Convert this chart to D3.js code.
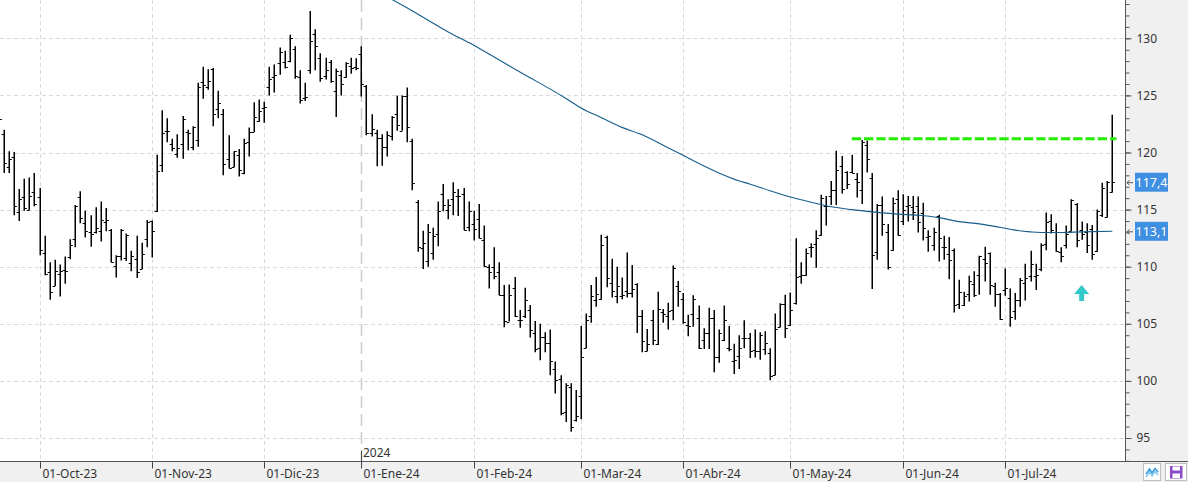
<!DOCTYPE html>
<html><head><meta charset="utf-8">
<script src="https://cdn.jsdelivr.net/npm/d3@7/dist/d3.min.js"></script>
<style>
html,body{margin:0;padding:0;background:#fff;}
svg{display:block;font-family:"Noto Sans",sans-serif;}
</style></head>
<body>
<svg id="chart" width="1188" height="482"></svg>
<script>
// ---- DATA (bar index 0 = 02-Oct-23, first bar index = -8) ----
const firstIndex = -8;
const opens = [122.6,121.6,118.7,119.6,114.8,116.1,115.0,116.5,
116.1,111.2,109.55,108.3,109.4,109.7,110.85,112.4,116.1,113.8,113.0,113.0,113.1,113.9,113.2,110.1,110.9,110.8,110.35,110.65,109.8,112.4,
114.0,114.85,118.9,121.9,120.75,119.9,120.75,121.8,120.5,121.1,126.2,125.7,127.3,123.8,123.4,119.4,118.7,119.8,118.2,120.9,121.8,122.8,
123.9,125.7,126.65,127.8,127.9,128.0,129.1,126.6,124.8,127.2,130.4,128.3,126.7,127.9,125.4,126.8,126.6,127.6,127.5,
128.6,125.8,121.7,121.7,121.3,120.5,121.45,123.4,121.9,124.95,121.0,115.65,111.6,110.5,111.2,112.9,116.4,115.0,115.9,116.15,116.35,113.45,
113.75,114.2,112.35,110.0,109.95,109.5,107.5,105.2,108.15,105.3,105.7,106.2,104.2,102.9,103.85,103.3,101.05,100.2,97.3,99.5,96.6,
98.65,102.9,105.7,107.1,107.2,112.6,108.55,107.4,107.4,107.9,107.7,108.5,105.65,102.65,105.3,103.2,106.0,105.7,106.2,108.3,
107.2,104.9,105.9,105.5,103.6,104.2,105.5,102.1,103.55,102.85,101.7,102.2,103.8,103.8,102.7,102.65,102.8,102.4,100.55,104.75,106.7,
104.9,106.8,109.2,109.3,111.7,112.0,112.75,115.3,116.15,116.7,118.8,118.3,118.25,117.65,116.7,120.65,117.8,111.25,115.4,113.0,111.45,115.9,
114.0,115.3,115.2,115.3,114.7,112.6,111.9,114.45,111.7,111.1,111.5,106.7,106.65,107.6,108.5,109.3,110.65,111.2,108.3,107.6,
108.0,107.3,106.1,107.1,108.55,109.15,109.15,109.8,112.0,114.0,113.0,111.25,111.9,113.1,115.5,113.2,113.0,113.3,111.4,114.5,114.35,116.5];
const highs = [123.3,122.0,120.1,120.05,116.8,117.7,117.8,118.2,
116.9,112.7,110.4,110.6,110.2,110.9,112.4,115.4,116.6,114.9,114.5,115.2,115.7,115.15,113.3,111.0,113.3,112.9,111.4,112.7,112.1,114.1,
114.05,119.8,123.7,123.0,121.2,121.6,123.2,122.0,122.3,126.1,127.5,127.3,127.4,125.4,123.8,121.5,120.1,120.3,121.2,122.2,124.4,124.65,
124.45,127.5,127.7,129.2,128.9,130.3,129.3,127.2,126.1,132.4,130.8,128.7,128.3,128.1,127.35,127.2,127.9,128.3,128.25,
129.3,125.9,123.35,122.0,121.6,121.85,123.2,125.0,125.0,125.7,121.2,115.85,113.15,113.75,113.4,115.7,117.25,115.9,117.4,116.8,116.9,115.7,
114.9,115.5,113.6,110.2,111.7,110.4,108.4,108.45,109.1,106.2,108.15,106.65,105.25,105.0,104.25,104.5,101.7,100.5,99.8,99.8,99.2,
104.8,105.9,108.4,109.1,112.8,112.7,110.7,110.0,109.05,111.25,110.15,108.55,106.2,104.55,106.2,107.8,106.3,106.85,110.1,108.75,
107.7,105.8,107.5,106.6,104.6,106.4,106.2,104.5,106.6,104.8,103.25,104.0,105.3,104.2,104.5,104.25,104.35,102.85,105.9,106.8,107.55,
107.75,112.5,110.4,111.6,112.05,113.2,116.3,116.2,117.5,120.15,119.7,118.35,119.8,118.2,121.1,121.05,118.2,115.5,116.15,113.75,116.05,116.7,
116.35,116.2,116.2,116.15,115.6,113.2,113.4,114.55,112.7,112.6,111.6,108.85,107.8,109.2,109.6,110.95,111.75,111.25,108.6,107.7,
109.85,108.1,107.7,109.0,110.25,111.4,110.25,112.05,114.75,114.6,113.8,111.7,113.6,115.9,115.55,113.95,113.8,113.65,115.0,117.35,117.5,123.3];
const lows = [122.4,118.2,118.2,114.5,114.0,114.9,114.95,115.3,
111.0,109.25,107.1,108.3,107.4,108.5,110.65,111.7,113.8,112.55,111.75,112.9,112.2,113.1,110.4,109.05,110.55,110.5,109.6,109.0,109.8,111.7,
110.8,114.8,118.3,120.9,120.1,119.55,119.45,120.2,120.2,120.5,124.7,125.5,122.3,123.0,118.0,118.6,118.7,117.9,118.1,119.65,121.8,122.7,
122.6,125.0,125.25,126.8,127.35,127.9,126.45,124.3,124.5,126.9,127.2,126.2,126.4,126.1,123.1,125.0,126.55,126.9,127.2,
124.9,121.5,121.4,118.8,118.85,119.65,121.05,121.9,121.9,120.9,116.7,111.3,109.8,110.0,110.6,111.8,114.85,114.15,114.5,114.45,113.2,113.1,
112.3,112.5,110.0,108.1,108.9,107.5,104.7,105.2,105.6,104.65,105.5,103.8,102.5,101.8,102.5,100.5,98.9,97.0,96.4,95.55,96.45,
96.65,102.85,105.1,106.5,107.1,108.2,107.3,106.8,107.15,107.3,107.3,104.2,102.5,102.6,103.15,103.15,105.1,104.5,105.3,106.5,
105.0,103.9,104.75,102.8,102.8,102.8,100.75,101.6,103.5,102.6,100.6,101.05,102.85,102.0,102.05,101.85,102.3,100.05,100.5,104.7,103.75,
104.8,106.7,108.5,109.2,110.8,109.9,112.7,113.6,115.4,115.4,116.4,116.8,118.2,116.05,115.5,118.25,108.05,110.6,112.7,109.75,111.4,112.7,
113.65,113.95,114.1,113.0,112.3,111.3,111.4,110.45,110.6,108.9,106.0,106.3,106.55,106.95,107.35,107.55,108.7,107.55,106.5,105.35,
107.45,104.75,105.35,106.5,107.05,108.7,107.95,109.6,111.45,112.9,111.3,110.4,111.6,113.1,111.7,112.35,111.2,110.6,111.3,114.35,114.3,116.5];
const closes = [122.9,119.1,119.4,115.3,115.9,115.1,116.2,115.5,
111.5,109.4,107.8,109.6,109.6,109.6,111.9,115.3,114.25,113.1,112.9,113.4,114.1,114.1,110.4,110.95,113.2,112.8,110.9,109.55,111.1,113.9,
113.1,118.35,121.7,121.85,120.4,120.4,122.9,121.7,122.2,125.7,125.9,126.3,123.4,124.3,119.0,118.65,120.1,118.45,120.8,121.8,123.15,123.6,
124.0,126.4,126.75,128.8,127.5,130.0,126.7,124.6,124.9,129.8,129.3,126.5,127.2,126.3,127.1,126.0,127.8,127.4,127.4,
126.0,121.7,122.1,121.25,120.5,121.5,123.1,122.4,124.95,122.2,117.3,111.7,112.05,113.0,112.7,114.85,115.4,115.4,116.5,116.2,113.25,114.9,
113.3,112.5,110.1,109.55,109.2,107.5,105.25,107.55,105.7,105.35,107.05,104.45,102.8,103.85,103.3,101.7,100.1,97.2,99.6,96.0,96.9,
102.1,105.35,107.4,107.6,111.9,109.0,107.9,108.3,107.5,107.7,108.05,105.7,103.5,103.2,103.6,106.3,105.9,106.1,109.85,107.85,
105.2,104.8,107.15,102.85,104.2,105.5,102.1,104.2,105.35,102.8,101.8,102.85,103.8,102.65,102.6,104.05,103.3,100.45,104.55,106.75,104.6,
106.2,109.1,109.25,111.2,111.7,112.5,116.0,115.3,116.7,118.5,116.8,117.25,118.2,117.4,120.95,119.45,111.0,115.4,113.75,110.0,115.6,112.8,
115.0,115.4,114.8,113.9,113.4,112.65,113.0,112.5,111.75,110.6,106.65,107.8,107.45,108.75,107.55,110.9,110.3,108.4,107.6,105.4,
108.15,105.6,107.1,108.8,109.0,110.2,109.3,111.9,113.95,113.2,111.4,110.95,112.85,115.8,112.35,112.85,111.9,111.1,114.9,116.85,117.45,117.4];

// long moving average, read at sample bar indices
const maIndex = [66,69,72,76,80,85,90,95,100,103,106,110,114,118,122,126,129,133,137,139,143,147,151,155,159,163,168,172,176,180,184,188,191,194,196,200,204,210];
const maValue = [134.1,133.4,132.65,131.6,130.55,129.4,128.1,126.8,125.55,124.75,123.9,123.05,122.2,121.55,120.65,119.75,119.05,118.2,117.5,117.25,116.65,116.1,115.65,115.25,115.0,114.8,114.6,114.5,114.3,113.95,113.75,113.45,113.2,113.05,113.0,113.0,113.05,113.1];

const monthIndex = [0,22,44,63,85,106,126,147,169,189];
const monthLabels = ["01-Oct-23","01-Nov-23","01-Dic-23","01-Ene-24","01-Feb-24","01-Mar-24","01-Abr-24","01-May-24","01-Jun-24","01-Jul-24"];
const yearIndex = 63, yearLabel = "2024";

const yTickValues = [95,100,105,110,115,120,125,130];
const resistance = {value:121.2, from:159, to:210.8};
const arrowSignal = {index:204, value:108.4};
const priceTags = [{value:117.4, label:"117,4"},{value:113.1, label:"113,1"}];

// ---- LAYOUT ----
const W = 1188, H = 482, plotR = 1125, plotB = 461;
const svg = d3.select("#chart");
const x = d3.scaleLinear().domain([0,210]).range([39.5,1112.3]);
const y = d3.scaleLinear().domain([95,130]).range([438,38.3]);

svg.append("defs").append("clipPath").attr("id","clip")
  .append("rect").attr("x",0).attr("y",0).attr("width",plotR).attr("height",plotB);

// panels
svg.append("rect").attr("x",plotR).attr("y",0).attr("width",W-plotR).attr("height",H).attr("fill","#f0f0f0");
svg.append("rect").attr("x",0).attr("y",plotB).attr("width",W).attr("height",H-plotB).attr("fill","#f0f0f0");

const plot = svg.append("g").attr("clip-path","url(#clip)");

// grid
plot.selectAll(".hg").data(yTickValues).join("line")
  .attr("x1",0).attr("x2",plotR).attr("y1",d=>Math.round(y(d))+0.5).attr("y2",d=>Math.round(y(d))+0.5)
  .attr("stroke","#d9d9d9").attr("stroke-dasharray","4,3");
plot.selectAll(".vg").data(monthIndex.filter(d=>d!==yearIndex)).join("line")
  .attr("x1",d=>Math.round(x(d))+0.5).attr("x2",d=>Math.round(x(d))+0.5).attr("y1",0).attr("y2",plotB)
  .attr("stroke","#d9d9d9").attr("stroke-dasharray","4,3");
plot.append("line").attr("x1",Math.round(x(yearIndex))+0.5).attr("x2",Math.round(x(yearIndex))+0.5)
  .attr("y1",0).attr("y2",plotB).attr("stroke","#cccccc").attr("stroke-width",1.5).attr("stroke-dasharray","12,6");

// bars
const bars = opens.map((o,i)=>({i:i+firstIndex,o,h:highs[i],l:lows[i],c:closes[i]}));
const bg = plot.append("g").attr("stroke","#000");
bars.forEach(b=>{
  const cx = Math.round(x(b.i))+0.25;
  bg.append("line").attr("x1",cx).attr("x2",cx).attr("y1",y(b.h)).attr("y2",y(b.l)).attr("stroke-width",1.5);
  bg.append("line").attr("x1",cx-2.6).attr("x2",cx).attr("y1",Math.round(y(b.o))+0.5).attr("y2",Math.round(y(b.o))+0.5).attr("stroke-width",1);
  bg.append("line").attr("x1",cx).attr("x2",cx+2.6).attr("y1",Math.round(y(b.c))+0.5).attr("y2",Math.round(y(b.c))+0.5).attr("stroke-width",1);
});

// moving average
plot.append("path").datum(maIndex.map((d,i)=>[d,maValue[i]]))
  .attr("fill","none").attr("stroke","#155d8c").attr("stroke-width",1.1)
  .attr("d",d3.line().curve(d3.curveMonotoneX).x(d=>x(d[0])).y(d=>y(d[1])));

// resistance
plot.append("line").attr("x1",x(resistance.from)).attr("x2",x(resistance.to))
  .attr("y1",y(resistance.value)).attr("y2",y(resistance.value))
  .attr("stroke","#22ee00").attr("stroke-width",3).attr("stroke-dasharray","9.3,3");

// arrow
{
  const ax = x(arrowSignal.index), ay = y(arrowSignal.value);
  plot.append("path").attr("fill","#33c9c9")
    .attr("d",`M${ax},${ay} L${ax+7.5},${ay+9} L${ax+2.5},${ay+9} L${ax+2.5},${ay+16} L${ax-2.5},${ay+16} L${ax-2.5},${ay+9} L${ax-7.5},${ay+9} Z`);
}

// right axis
const rA = svg.append("g").attr("transform",`translate(${plotR+0.5},0)`);
rA.call(d3.axisRight(y).tickValues(d3.range(93,134)).tickSize(4).tickFormat(""));
const rB = svg.append("g").attr("transform",`translate(${plotR+0.5},0)`);
rB.call(d3.axisRight(y).tickValues(yTickValues).tickSize(6).tickPadding(5).tickFormat(d3.format("d")));
[rA,rB].forEach(g=>{
  g.select(".domain").remove();
  g.selectAll("line").attr("stroke","#555");
  g.selectAll("text").attr("fill","#333").attr("font-size","12px").attr("font-family","Noto Sans");
});
svg.append("line").attr("x1",plotR+0.5).attr("x2",plotR+0.5).attr("y1",0).attr("y2",plotB).attr("stroke","#555");

// price tags
priceTags.forEach(t=>{
  const ty = y(t.value);
  svg.append("rect").attr("x",1135).attr("y",ty-9.5).attr("width",33).attr("height",19).attr("fill","#3f8fe3");
  svg.append("text").attr("x",1151.5).attr("y",ty).attr("dy","0.36em").attr("text-anchor","middle")
    .attr("fill","#fff").attr("font-size","12.5px").text(t.label);
  svg.append("path").attr("fill","none").attr("stroke","#555").attr("stroke-width",1)
    .attr("d",`M${plotR+8},${ty+0.5} L${plotR+2},${ty+0.5} M${plotR+4.5},${ty-2} L${plotR+2},${ty+0.5} L${plotR+4.5},${ty+3}`);
});

// bottom axis
svg.append("line").attr("x1",0).attr("x2",W).attr("y1",plotB+0.5).attr("y2",plotB+0.5).attr("stroke","#555");
const bA = svg.append("g").attr("transform",`translate(0,${plotB+0.5})`);
bA.call(d3.axisBottom(x).tickValues(monthIndex).tickSize(7).tickFormat((d,i)=>monthLabels[i]));
bA.select(".domain").remove();
bA.selectAll(".tick").attr("transform",d=>`translate(${Math.round(x(d))+0.5},0)`);
bA.selectAll("line").attr("stroke","#444");
bA.selectAll("text").attr("text-anchor","start").attr("x",2).attr("y",16).attr("dy",0)
  .attr("fill","#333").attr("font-size","12px").attr("font-family","Noto Sans");

// year marker
const yx = Math.round(x(yearIndex))+0.5;
svg.append("line").attr("x1",yx).attr("x2",yx).attr("y1",451).attr("y2",plotB).attr("stroke","#444");
svg.append("text").attr("x",yx+1.5).attr("y",457).attr("fill","#333").attr("font-size","12px").text(yearLabel);

// buttons
svg.append("rect").attr("x",1143.5).attr("y",463.5).attr("width",17).attr("height",17).attr("fill","#fff").attr("stroke","#bdbdbd");
svg.append("path").attr("fill","none").attr("stroke","#3b9de0").attr("stroke-width",1.6)
  .attr("d","M1146,474 L1149.5,469 L1152,473 L1155,468.5 L1158,472");
svg.append("path").attr("fill","none").attr("stroke","#7fc4ee").attr("stroke-width",1.4)
  .attr("d","M1146,477 L1149.5,472 L1152,476 L1155,471.5 L1158,475");
svg.append("rect").attr("x",1165.5).attr("y",463.5).attr("width",21).attr("height",17).attr("fill","#fff").attr("stroke","#bdbdbd");
svg.append("rect").attr("x",1170).attr("y",466).attr("width",12.5).attr("height",12.5).attr("fill","#8a4cc9");
svg.append("rect").attr("x",1172.5).attr("y",466.5).attr("width",7.5).attr("height",4).attr("fill","#fff");
svg.append("rect").attr("x",1172.5).attr("y",473.5).attr("width",7.5).attr("height",4.5).attr("fill","#fff");
</script>
</body></html>
